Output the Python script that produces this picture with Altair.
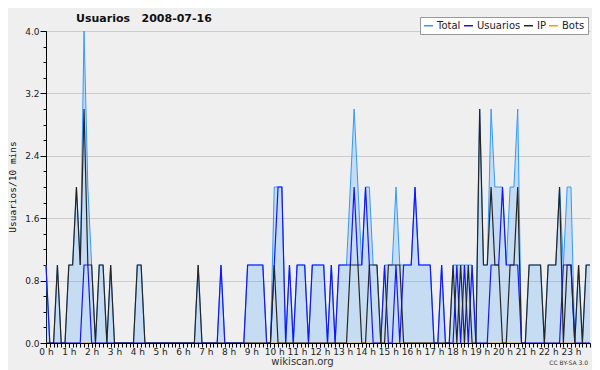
import altair as alt
import pandas as pd

# 10-minute slots of 2008-07-16 (minutes after midnight)
minutes = list(range(0, 1440, 10))

series_names = ["Total", "Usuarios", "IP", "Bots"]
series_colors = ["#3399ff", "#1414ff", "#262626", "#ff9900"]

total = [
    1, 0, 0, 1, 0, 0, 1, 1, 2, 1, 4, 2,
    1, 0, 1, 1, 0, 1, 0, 0, 0, 0, 0, 0,
    1, 1, 0, 0, 0, 0, 0, 0, 0, 0, 0, 0,
    0, 0, 0, 0, 1, 0, 0, 0, 0, 0, 1, 0,
    0, 0, 0, 0, 0, 1, 1, 1, 1, 1, 0, 0,
    2, 2, 2, 0, 1, 0, 1, 1, 1, 0, 1, 1,
    1, 1, 0, 1, 0, 1, 1, 1, 2, 3, 2, 1,
    2, 2, 1, 1, 0, 1, 1, 1, 2, 1, 1, 1,
    1, 2, 1, 1, 1, 1, 0, 0, 1, 0, 0, 1,
    1, 1, 1, 1, 1, 0, 3, 1, 1, 3, 2, 2,
    2, 1, 2, 2, 3, 0, 0, 1, 1, 1, 1, 0,
    1, 1, 1, 2, 1, 2, 2, 0, 1, 0, 1, 1,
]
usuarios = [
    1, 0, 0, 0, 0, 0, 0, 0, 0, 0, 1, 1,
    0, 0, 0, 0, 0, 0, 0, 0, 0, 0, 0, 0,
    0, 0, 0, 0, 0, 0, 0, 0, 0, 0, 0, 0,
    0, 0, 0, 0, 0, 0, 0, 0, 0, 0, 1, 0,
    0, 0, 0, 0, 0, 1, 1, 1, 1, 1, 0, 0,
    1, 2, 2, 0, 1, 0, 1, 1, 1, 0, 1, 1,
    1, 1, 0, 1, 0, 1, 1, 1, 1, 2, 1, 1,
    2, 1, 0, 0, 0, 1, 0, 0, 1, 0, 1, 1,
    1, 2, 1, 1, 1, 1, 0, 0, 1, 0, 0, 0,
    1, 0, 1, 0, 1, 0, 0, 0, 0, 1, 1, 1,
    2, 1, 1, 1, 1, 0, 0, 0, 0, 0, 0, 0,
    0, 0, 0, 0, 1, 1, 1, 0, 0, 0, 0, 0,
]
ip = [
    0, 0, 0, 1, 0, 0, 1, 1, 2, 1, 3, 1,
    1, 0, 1, 1, 0, 1, 0, 0, 0, 0, 0, 0,
    1, 1, 0, 0, 0, 0, 0, 0, 0, 0, 0, 0,
    0, 0, 0, 0, 1, 0, 0, 0, 0, 0, 0, 0,
    0, 0, 0, 0, 0, 0, 0, 0, 0, 0, 0, 0,
    1, 0, 0, 0, 0, 0, 0, 0, 0, 0, 0, 0,
    0, 0, 0, 0, 0, 0, 0, 0, 1, 1, 1, 0,
    0, 1, 1, 1, 0, 0, 1, 1, 1, 1, 0, 0,
    0, 0, 0, 0, 0, 0, 0, 0, 0, 0, 0, 1,
    0, 1, 0, 1, 0, 0, 3, 1, 1, 2, 1, 1,
    0, 0, 1, 1, 2, 0, 0, 1, 1, 1, 1, 0,
    1, 1, 1, 2, 0, 1, 1, 0, 1, 0, 1, 1,
]
bots = [
    0, 0, 0, 0, 0, 0, 0, 0, 0, 0, 0, 0,
    0, 0, 0, 0, 0, 0, 0, 0, 0, 0, 0, 0,
    0, 0, 0, 0, 0, 0, 0, 0, 0, 0, 0, 0,
    0, 0, 0, 0, 0, 0, 0, 0, 0, 0, 0, 0,
    0, 0, 0, 0, 0, 0, 0, 0, 0, 0, 0, 0,
    0, 0, 0, 0, 0, 0, 0, 0, 0, 0, 0, 0,
    0, 0, 0, 0, 0, 0, 0, 0, 0, 0, 0, 0,
    0, 0, 0, 0, 0, 0, 0, 0, 0, 0, 0, 0,
    0, 0, 0, 0, 0, 0, 0, 0, 0, 0, 0, 0,
    0, 0, 0, 0, 0, 0, 0, 0, 0, 0, 0, 0,
    0, 0, 0, 0, 0, 0, 0, 0, 0, 0, 0, 0,
    0, 0, 0, 0, 0, 0, 0, 0, 0, 0, 0, 0,
]

hour_ticks = list(range(0, 1440, 60))
y_major = [0.0, 0.8, 1.6, 2.4, 3.2, 4.0]
y_minor = [0.0, 0.2, 0.4, 0.6, 0.8, 1.0, 1.2, 1.4, 1.6, 1.8, 2.0,
           2.2, 2.4, 2.6, 2.8, 3.0, 3.2, 3.4, 3.6, 3.8, 4.0]

title_text = "Usuarios\u00a0\u00a0\u00a02008-07-16"
ylabel_text = "Usuarios/10 mins"
source_text = "wikiscan.org"
license_text = "CC BY-SA 3.0"

rows = []
for name, vals in zip(series_names, [total, usuarios, ip, bots]):
    for m, v in zip(minutes, vals):
        rows.append({"minute": m, "value": v, "series": name})
df = pd.DataFrame(rows)

FONT = "DejaVu Sans"
xscale = alt.Scale(domain=[0, 1430], nice=False, zero=False)
yscale = alt.Scale(domain=[0, 4], nice=False)

x_main = alt.X("minute:Q", scale=xscale, axis=alt.Axis(
    orient="bottom", values=hour_ticks,
    labelExpr="floor(datum.value / 60) + ' h'",
    tickSize=4, tickColor="black", domainColor="black",
    labelFont=FONT, labelFontSize=9, labelColor="#222222", labelPadding=0,
    labelFlush=False, labelOverlap=False, grid=False,
    title=source_text, titleFont=FONT, titleFontSize=10, titleFontWeight="normal",
    titleColor="#333333", titleX=256, titleY=21, titleBaseline="alphabetic",
    titleAlign="center", zindex=1))
x_minor = alt.X("minute:Q", scale=xscale, axis=alt.Axis(
    orient="bottom", values=minutes, labels=False, tickSize=4,
    tickColor="black", domain=False, grid=False, title=None, zindex=1))
y_main_axis = alt.Axis(
    orient="left", values=y_major, format=".1f", tickSize=6,
    tickColor="black", domainColor="black", grid=True, gridColor="#cccccc",
    labelFont=FONT, labelFontSize=9, labelColor="#222222", labelPadding=1,
    title=None)
y_main = alt.Y("value:Q", scale=yscale, stack=None, axis=y_main_axis)
y_minor_axis = alt.Y("value:Q", scale=yscale, axis=alt.Axis(
    orient="left", values=y_minor, labels=False, tickSize=3,
    tickColor="black", domain=False, grid=False, title=None))
x_none = alt.X("minute:Q", scale=xscale, axis=None)
y_none = alt.Y("value:Q", scale=yscale, axis=None)

color_enc = alt.Color("series:N",
    scale=alt.Scale(domain=series_names, range=series_colors),
    legend=alt.Legend(orient="none", legendX=374, legendY=-14,
                      direction="horizontal", title=None,
                      fillColor="white", strokeColor="#999999", padding=3,
                      columnPadding=0, labelOffset=3,
                      labelFont=FONT, labelFontSize=10, labelColor="#222222",
                      symbolType="stroke", symbolSize=81, symbolStrokeWidth=1.5))

base = alt.Chart(df)

bots_layer = base.transform_filter("datum.series == 'Bots'").mark_line(
    strokeWidth=1).encode(x=x_minor, y=y_minor_axis, color=color_enc)
area_layer = base.transform_filter("datum.series == 'Total'").mark_area(
    color="#3399ff", fillOpacity=0.22).encode(x=x_main, y=y_main)
total_line = base.transform_filter("datum.series == 'Total'").mark_line(
    strokeWidth=1).encode(x=x_none, y=y_none, color=color_enc)
users_line = base.transform_filter("datum.series == 'Usuarios'").mark_line(
    strokeWidth=1.2).encode(x=x_none, y=y_none, color=color_enc)
ip_line = base.transform_filter("datum.series == 'IP'").mark_line(
    strokeWidth=1.2).encode(x=x_none, y=y_none, color=color_enc)

title_layer = alt.Chart(pd.DataFrame({"t": [title_text]})).mark_text(
    font=FONT, fontSize=11, fontWeight="bold", align="left",
    baseline="alphabetic", color="#111111").encode(
    x=alt.value(30), y=alt.value(-9), text="t:N")
ylabel_layer = alt.Chart(pd.DataFrame({"t": [ylabel_text]})).mark_text(
    font="DejaVu Sans Mono", fontSize=9.5, angle=270, align="center",
    baseline="alphabetic", color="#111111").encode(
    x=alt.value(-30), y=alt.value(156), text="t:N")
license_layer = alt.Chart(pd.DataFrame({"t": [license_text]})).mark_text(
    font=FONT, fontSize=6, align="right", baseline="alphabetic",
    color="#333333").encode(x=alt.value(542), y=alt.value(334), text="t:N")

chart = alt.layer(
    bots_layer, area_layer, total_line, users_line, ip_line,
    title_layer, ylabel_layer, license_layer,
).resolve_axis(x="independent", y="independent").properties(
    width=544, height=312,
    padding={"left": 38, "top": 23, "right": 2, "bottom": 27},
    autosize=alt.AutoSizeParams(type="none"),
    background="#efefef",
).configure_view(stroke=None)

chart.save("out.html", embed_options={"renderer": "svg", "actions": False})
